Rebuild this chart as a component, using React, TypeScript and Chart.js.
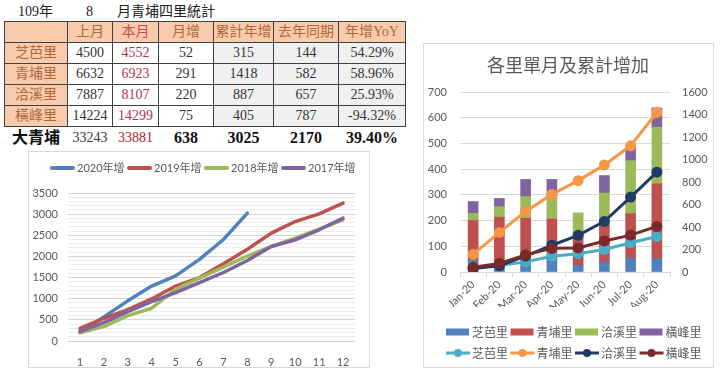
import React, { useEffect, useRef } from 'react';
import { Chart, registerables } from 'chart.js';
Chart.register(...registerables);

// ---------- Table data ----------
const titleYear = '109年';
const titleMonth = '8';
const titleRest = '月青埔四里統計';
const headers = ['', '上月', '本月', '月增', '累計年增', '去年同期', '年增YoY'];
const villages = ['芝芭里', '青埔里', '洽溪里', '橫峰里'];
const lastMonth = [4500, 6632, 7887, 14224];
const thisMonth = [4552, 6923, 8107, 14299];
const monthInc = [52, 291, 220, 75];
const ytdInc = [315, 1418, 887, 405];
const lastYearSame = [144, 582, 657, 787];
const yoy = ['54.29%', '58.96%', '25.93%', '-94.32%'];
const totalRow = ['大青埔', '33243', '33881', '638', '3025', '2170', '39.40%'];

// ---------- Left line chart data ----------
const monthNums = ['1', '2', '3', '4', '5', '6', '7', '8', '9', '10', '11', '12'];
const yearNames = ['2020年增', '2019年增', '2018年增', '2017年增'];
const y2020 = [220, 570, 950, 1300, 1540, 1930, 2400, 3025];
const y2019 = [300, 537, 740, 995, 1300, 1500, 1825, 2170, 2550, 2825, 3005, 3260];
const y2018 = [195, 340, 600, 775, 1225, 1485, 1745, 2010, 2235, 2430, 2645, 2865];
const y2017 = [220, 434, 695, 932, 1145, 1380, 1620, 1905, 2235, 2390, 2630, 2905];

// ---------- Right combo chart data ----------
const months = ['Jan-20', 'Feb-20', 'Mar-20', 'Apr-20', 'May-20', 'Jun-20', 'Jul-20', 'Aug-20'];
const zhibaMonthly = [45, 17, 40, 50, 25, 38, 55, 52];
const qingpuMonthly = [155, 196, 169, 156, 122, 145, 172, 291];
const qiaxiMonthly = [28, 41, 84, 90, 82, 124, 206, 220];
const hengfengMonthly = [46, 32, 67, 64, 0, 68, 51, 75];
const zhibaCum = [40, 58, 90, 140, 163, 200, 260, 315];
const qingpuCum = [156, 352, 538, 690, 812, 952, 1122, 1418];
const qiaxiCum = [30, 55, 142, 238, 326, 450, 666, 887];
const hengfengCum = [42, 76, 152, 210, 214, 276, 328, 405];
const comboTitle = '各里單月及累計增加';

const yearColors = ['#4f81bd', '#c0504d', '#9bbb59', '#8064a2'];
const barColors = ['#4f81bd', '#c0504d', '#9bbb59', '#8064a2'];
const lineColors = ['#4bacc6', '#f79646', '#1f3b66', '#7a2a2a'];
const axisText = '#595959';
const tickFont = { family: 'Lato, "Noto Sans CJK TC", sans-serif', size: 11 };

function GrowthChart() {
  const ref = useRef<HTMLCanvasElement>(null);
  useEffect(() => {
    const series = [y2020, y2019, y2018, y2017];
    const legendPlugin = {
      id: 'growthLegend',
      afterDraw(chart: any) {
        const ctx = chart.ctx;
        ctx.save();
        yearNames.forEach((name, i) => {
          const x0 = 21 + i * 77;
          ctx.strokeStyle = yearColors[i];
          ctx.lineWidth = 4;
          ctx.lineCap = 'round';
          ctx.beginPath();
          ctx.moveTo(x0 + 2, 16);
          ctx.lineTo(x0 + 23, 16);
          ctx.stroke();
          ctx.fillStyle = axisText;
          ctx.font = '11px Lato, "Noto Sans CJK TC", sans-serif';
          ctx.textBaseline = 'middle';
          ctx.textAlign = 'left';
          ctx.fillText(name, x0 + 27, 16);
        });
        ctx.restore();
      },
    };
    const chart = new Chart(ref.current as HTMLCanvasElement, {
      type: 'line',
      data: {
        labels: monthNums,
        datasets: yearNames.map((name, i) => ({
          label: name,
          data: series[i],
          borderColor: yearColors[i],
          backgroundColor: yearColors[i],
          borderWidth: 3.5,
          pointRadius: 0,
          tension: 0,
          borderCapStyle: 'round',
          borderJoinStyle: 'round',
          order: 4 - i,
        })),
      },
      options: {
        responsive: false,
        animation: false,
        devicePixelRatio: 1,
        layout: { padding: { left: 0, right: 14, top: 41, bottom: 0 } },
        plugins: { legend: { display: false }, tooltip: { enabled: false }, title: { display: false } },
        scales: {
          x: {
            offset: true,
            grid: { display: false },
            border: { display: false },
            ticks: { color: axisText, font: tickFont, padding: 7 },
            afterFit: (s: any) => { s.height = 26; },
          },
          y: {
            min: 0,
            max: 3500,
            ticks: {
              stepSize: 100,
              autoSkip: false,
              color: axisText,
              font: tickFont,
              padding: 10,
              callback: (v: any) => (Number(v) % 500 === 0 ? String(v) : ''),
            },
            grid: {
              drawTicks: false,
              color: (c: any) => (c.tick && c.tick.value % 500 === 0 ? '#d4d4d4' : '#ececec'),
            },
            border: { display: false },
            afterFit: (s: any) => { s.width = 39; },
          },
        },
      } as any,
      plugins: [legendPlugin],
    });
    return () => chart.destroy();
  }, []);
  return (
    <canvas
      ref={ref}
      width={340}
      height={215}
      style={{ position: 'absolute', left: 29, top: 152, width: 340, height: 215 }}
    />
  );
}

function ComboChart() {
  const ref = useRef<HTMLCanvasElement>(null);
  useEffect(() => {
    const monthly = [zhibaMonthly, qingpuMonthly, qiaxiMonthly, hengfengMonthly];
    const cumul = [zhibaCum, qingpuCum, qiaxiCum, hengfengCum];
    const extrasPlugin = {
      id: 'comboExtras',
      afterDraw(chart: any) {
        const ctx = chart.ctx;
        ctx.save();
        ctx.fillStyle = axisText;
        ctx.font = '18px "Noto Sans CJK TC", sans-serif';
        ctx.textAlign = 'center';
        ctx.textBaseline = 'middle';
        ctx.fillText(comboTitle, 144, 21);
        ctx.font = '12px "Noto Sans CJK TC", sans-serif';
        ctx.textAlign = 'left';
        villages.forEach((name, i) => {
          const x0 = 22 + i * 64.5;
          // bar row
          ctx.fillStyle = barColors[i];
          ctx.fillRect(x0, 288 - 3.5, 23, 7);
          ctx.fillStyle = axisText;
          ctx.fillText(name, x0 + 26, 288);
          // line row
          ctx.strokeStyle = lineColors[i];
          ctx.lineWidth = 3;
          ctx.beginPath();
          ctx.moveTo(x0, 309);
          ctx.lineTo(x0 + 24, 309);
          ctx.stroke();
          ctx.fillStyle = lineColors[i];
          ctx.beginPath();
          ctx.arc(x0 + 12, 309, 4, 0, Math.PI * 2);
          ctx.fill();
          ctx.fillStyle = axisText;
          ctx.fillText(name, x0 + 26, 309);
        });
        ctx.restore();
      },
    };
    const barSets = villages.map((name, i) => ({
      type: 'bar',
      label: name,
      data: monthly[i],
      backgroundColor: barColors[i],
      yAxisID: 'y',
      stack: 'monthly',
      barThickness: 10,
      order: 10,
    }));
    const lineSets = villages.map((name, i) => ({
      type: 'line',
      label: name,
      data: cumul[i],
      borderColor: lineColors[i],
      backgroundColor: lineColors[i],
      pointBackgroundColor: lineColors[i],
      pointBorderColor: lineColors[i],
      pointRadius: 4,
      borderWidth: 3,
      tension: 0,
      yAxisID: 'y1',
      order: 4 - i,
    }));
    const chart = new Chart(ref.current as HTMLCanvasElement, {
      type: 'bar',
      data: { labels: months, datasets: [...barSets, ...lineSets] as any },
      options: {
        responsive: false,
        animation: false,
        devicePixelRatio: 1,
        layout: { padding: { left: 0, right: 0, top: 48, bottom: 60 } },
        plugins: { legend: { display: false }, tooltip: { enabled: false }, title: { display: false } },
        scales: {
          x: {
            stacked: true,
            grid: { offset: true, drawOnChartArea: false, drawTicks: true, tickLength: 5, color: '#d9d9d9' },
            border: { display: true, color: '#d9d9d9' },
            ticks: { minRotation: 45, maxRotation: 45, color: axisText, font: tickFont, padding: 1, autoSkip: false },
            afterFit: (s: any) => { s.height = 35; },
          },
          y: {
            stacked: true,
            min: 0,
            max: 700,
            ticks: { stepSize: 100, color: axisText, font: tickFont, padding: 13, callback: (v: any) => String(v) },
            grid: { drawTicks: false, color: '#d9d9d9' },
            border: { display: false },
            afterFit: (s: any) => { s.width = 36; },
          },
          y1: {
            position: 'right',
            stacked: false,
            min: 0,
            max: 1600,
            ticks: { stepSize: 200, color: axisText, font: tickFont, padding: 12, callback: (v: any) => String(v) },
            grid: { display: false, drawTicks: false },
            border: { display: false },
            afterFit: (s: any) => { s.width = 42; },
          },
        },
      } as any,
      plugins: [extrasPlugin],
    });
    return () => chart.destroy();
  }, []);
  return (
    <canvas
      ref={ref}
      width={288}
      height={323}
      style={{ position: 'absolute', left: 424, top: 44, width: 288, height: 323 }}
    />
  );
}

const colWidths = [63, 45, 46, 55, 60, 65, 67];
const serif = '"Liberation Serif", "Noto Sans CJK TC", serif';
const headBg = '#f8cbad';
const headText = '#b0683a';
const grayBg = '#f0f0f0';
const dataText = '#333333';
const thisMonthText = '#b0344f';

function StatsTable() {
  const border = '1px solid #404040';
  const cell = (extra: any = {}) => ({
    border,
    padding: 0,
    textAlign: 'center' as const,
    verticalAlign: 'middle' as const,
    lineHeight: '1',
    fontSize: 14,
    fontFamily: serif,
    color: dataText,
    whiteSpace: 'nowrap' as const,
    overflow: 'hidden',
    ...extra,
  });
  return (
    <table
      style={{
        position: 'absolute',
        left: 4,
        top: 21,
        borderCollapse: 'collapse',
        tableLayout: 'fixed',
        width: colWidths.reduce((a, b) => a + b, 0),
      }}
    >
      <colgroup>
        {colWidths.map((w, i) => (
          <col key={i} style={{ width: w }} />
        ))}
      </colgroup>
      <tbody>
        <tr style={{ height: 21 }}>
          {headers.map((h, i) => (
            <td key={i} style={cell({ background: headBg, color: i === 2 ? '#c0504d' : headText })}>
              {h}
            </td>
          ))}
        </tr>
        {villages.map((v, r) => (
          <tr key={v} style={{ height: 21 }}>
            <td style={cell({ background: headBg, color: headText })}>{v}</td>
            <td style={cell({ background: '#fff' })}>{lastMonth[r]}</td>
            <td style={cell({ background: '#fff', color: thisMonthText })}>{thisMonth[r]}</td>
            <td style={cell({ background: '#fff' })}>{monthInc[r]}</td>
            <td style={cell({ background: grayBg })}>{ytdInc[r]}</td>
            <td style={cell({ background: grayBg })}>{lastYearSame[r]}</td>
            <td style={cell({ background: grayBg })}>{yoy[r]}</td>
          </tr>
        ))}
        <tr style={{ height: 22 }}>
          {totalRow.map((t, i) => {
            const bold = i === 0 || i >= 3;
            const color = i === 2 ? '#b2222f' : i === 1 ? '#3a3a3a' : '#111';
            return (
              <td
                key={i}
                style={cell({
                  border: 'none',
                  fontSize: i === 0 ? 16 : i >= 3 ? 16 : 14,
                  fontWeight: bold ? 700 : 400,
                  color,
                })}
              >
                {t}
              </td>
            );
          })}
        </tr>
      </tbody>
    </table>
  );
}

export default function App() {
  const titleStyle = {
    position: 'absolute' as const,
    top: 4,
    fontFamily: serif,
    fontSize: 14,
    lineHeight: '16px',
    color: '#222',
    whiteSpace: 'nowrap' as const,
  };
  return (
    <div
      style={{
        position: 'fixed',
        left: 0,
        top: 0,
        width: 720,
        height: 376,
        background: '#fff',
        overflow: 'hidden',
      }}
    >
      <span style={{ ...titleStyle, left: 18 }}>{titleYear}</span>
      <span style={{ ...titleStyle, left: 86 }}>{titleMonth}</span>
      <span style={{ ...titleStyle, left: 117 }}>{titleRest}</span>
      <StatsTable />
      <div
        style={{
          position: 'absolute',
          left: 28,
          top: 151,
          width: 342,
          height: 217,
          boxSizing: 'border-box',
          border: '1px solid #d9d9d9',
        }}
      />
      <GrowthChart />
      <div
        style={{
          position: 'absolute',
          left: 423,
          top: 43,
          width: 291,
          height: 325,
          boxSizing: 'border-box',
          border: '1px solid #d9d9d9',
        }}
      />
      <ComboChart />
    </div>
  );
}
